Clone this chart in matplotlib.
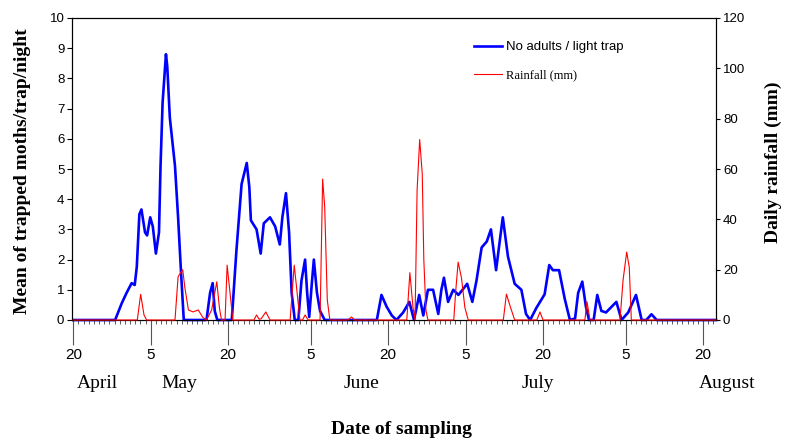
import matplotlib.pyplot as plt
import numpy as np
import pandas as pd
from matplotlib.ticker import MultipleLocator

# days counted from 20 April
start = pd.Timestamp("2000-04-20")

blue_day = [0, 8.1, 9.4, 10.3, 11.3, 11.9, 12.3, 12.8, 13.2, 13.9, 14.3, 14.9, 15.4, 16.0, 16.6, 16.9, 17.3, 17.95, 18.2, 18.7, 19.7, 20.3, 20.8, 21.4,
            25.8, 26.5, 27.0, 27.4, 27.9,
            30.7, 31.6, 32.6, 33.6, 34.1, 34.4, 35.5, 36.3, 36.9, 38.1, 39.1, 40.0, 40.5, 41.2, 41.8, 42.3, 42.9,
            43.6, 44.2, 44.9, 45.3, 45.7, 46.2, 46.6, 47.2, 47.8, 48.7,
            58.8, 59.7, 60.7, 61.7, 62.6, 63.9, 65.1, 66.0, 67.0, 67.8, 68.7, 69.7, 70.7, 71.3, 71.8,
            72.6, 73.6, 74.6, 75.4, 76.3, 77.3, 78.1, 79.1, 80.1, 80.9, 81.9, 82.6, 83.2, 84.2, 85.5,
            86.8, 87.7, 88.5, 89.7, 91.3, 92.2, 92.9, 94.1, 95.2, 96.2, 97.2, 97.8, 98.6, 99.3, 99.9,
            100.8, 101.5, 102.3, 103.2, 105.2, 106.2, 107.5, 109.0, 110.1, 111.0, 112.0, 113.0, 124.5]
blue_val = [0, 0, 0.56, 0.89, 1.22, 1.16, 1.76, 3.5, 3.66, 2.9, 2.8, 3.4, 3.1, 2.2, 2.9, 5.1, 7.2, 8.8, 8.4, 6.7, 5.1, 3.4, 1.8, 0,
            0, 0.9, 1.22, 0.3, 0,
            0, 2.3, 4.5, 5.2, 4.4, 3.3, 3.0, 2.2, 3.2, 3.4, 3.1, 2.5, 3.4, 4.2, 2.9, 0.9, 0,
            0, 1.3, 2.0, 0.9, 0.1, 1.2, 2.0, 0.9, 0.3, 0,
            0, 0.83, 0.44, 0.15, 0, 0.25, 0.6, 0, 0.83, 0.15, 1.0, 1.0, 0.2, 1.0, 1.4,
            0.6, 1.0, 0.83, 1.0, 1.2, 0.6, 1.3, 2.4, 2.6, 3.0, 1.65, 2.6, 3.4, 2.1, 1.2,
            1.0, 0.2, 0, 0.4, 0.85, 1.82, 1.65, 1.65, 0.7, 0, 0.05, 0.9, 1.27, 0.44, 0,
            0, 0.83, 0.3, 0.25, 0.6, 0, 0.25, 0.83, 0, 0, 0.19, 0, 0]

rain_day = [0, 12.4, 13.05, 13.7, 14.2, 19.7, 20.3, 21.2, 21.6, 22.3, 23.2, 24.2, 25.1, 25.8, 26.8,
            27.8, 28.3, 28.7, 29.4, 29.8, 30.3, 30.9, 35.0, 35.5, 36.0, 36.4, 37.3, 38.1, 42.0, 42.8,
            43.4, 43.9, 44.4, 44.9, 45.5, 47.8, 48.3, 48.7, 49.2, 49.7, 53.2, 53.9, 54.5, 64.6, 65.2,
            65.8, 66.2, 66.6, 67.1, 67.6, 67.9, 68.3, 68.7, 73.7, 74.1, 74.55, 75.2, 75.85, 76.5, 83.3,
            83.9, 84.7, 85.5, 89.8, 90.4, 91.0, 99.1, 99.5, 100.1, 105.9, 106.5, 107.2, 107.7, 108.1, 124.5]
rain_mm = [0, 0, 10.2, 2, 0, 0, 17.2, 20, 13, 4, 3.2, 4, 1, 0, 4,
           15.2, 5, 0, 0, 21.8, 12, 0, 0, 2, 0.3, 0.5, 3.2, 0, 0, 21.8,
           10, 0, 0, 2, 0, 0, 56, 45, 8, 0, 0, 1.2, 0, 0, 18.8,
           5, 0, 51.6, 71.7, 58, 24, 4, 0, 0, 12, 23, 16.7, 5, 0, 0,
           10.3, 5, 0, 0, 3.2, 0, 0, 7.3, 0, 0, 15.9, 27, 21, 0, 0]

tick_dates = ["2000-04-20", "2000-05-05", "2000-05-20", "2000-06-05", "2000-06-20",
              "2000-07-05", "2000-07-20", "2000-08-05", "2000-08-20"]
tick_labels = ["20", "5", "20", "5", "20", "5", "20", "5", "20"]
months = ["April", "May", "June", "July", "August"]
month_pos = [4.6, 20.6, 55.8, 89.9, 126.7]

tick_days = [(pd.Timestamp(d) - start).days for d in tick_dates]

fig = plt.figure(figsize=(7.85, 4.41), dpi=100)
ax = fig.add_axes([72 / 785, 1 - 320 / 441, 644 / 785, 302 / 441])
ax2 = ax.twinx()

l1, = ax.plot(blue_day, blue_val, color="#0000ff", lw=1.9, clip_on=False, zorder=3,
              label="No adults / light trap")
l2, = ax2.plot(rain_day, rain_mm, color="#ff0000", lw=0.8, clip_on=False, zorder=3,
               label="Rainfall (mm)")

ax.set_xlim(-0.25, 124.5)
ax.set_ylim(0, 10)
ax2.set_ylim(0, 120)
ax.set_yticks(np.arange(0, 11, 1))
ax2.set_yticks(np.arange(0, 121, 20))

ax.set_xticks(tick_days)
ax.set_xticklabels(tick_labels, fontfamily="Liberation Sans", fontsize=11)
ax.xaxis.set_minor_locator(MultipleLocator(1))
ax.tick_params(axis="x", which="major", direction="out", length=18, width=0.8,
               color="#555555", pad=2)
ax.tick_params(axis="x", which="minor", direction="out", length=3, width=0.6, color="#444444")
ax.tick_params(axis="y", direction="out", length=3.5, width=0.8, pad=2, labelsize=9.5)
ax2.tick_params(axis="y", direction="out", length=3, width=0.8, pad=2, labelsize=9.5)
for lab in ax.get_yticklabels() + ax2.get_yticklabels():
    lab.set_fontfamily("Liberation Sans")

for m, d in zip(months, month_pos):
    ax.text(d, -0.209, m, transform=ax.get_xaxis_transform(), ha="center", va="center",
            fontfamily="Liberation Serif", fontsize=14)

ax.text(0.512, -0.364, "Date of sampling", transform=ax.transAxes, ha="center", va="center",
        fontfamily="Liberation Serif", fontweight="bold", fontsize=14)
ax.text(-0.0776, 0.493, "Mean of trapped moths/trap/night", transform=ax.transAxes,
        rotation=90, ha="center", va="center",
        fontfamily="Liberation Serif", fontweight="bold", fontsize=14)
ax.text(1.0885, 0.5215, "Daily rainfall (mm)", transform=ax.transAxes,
        rotation=90, ha="center", va="center",
        fontfamily="Liberation Serif", fontweight="bold", fontsize=14)

leg = ax2.legend([l1, l2], ["No adults / light trap", "Rainfall (mm)"], loc="upper left",
                 bbox_to_anchor=(0.614, 0.945), frameon=False, handlelength=2.1,
                 handletextpad=0.3, labelspacing=1.2, borderpad=0, fontsize=9.5)
texts = leg.get_texts()
texts[0].set_fontfamily("Liberation Sans")
texts[1].set_fontfamily("Liberation Serif")
texts[1].set_fontsize(9)

fig.savefig("out.png", dpi=100)
